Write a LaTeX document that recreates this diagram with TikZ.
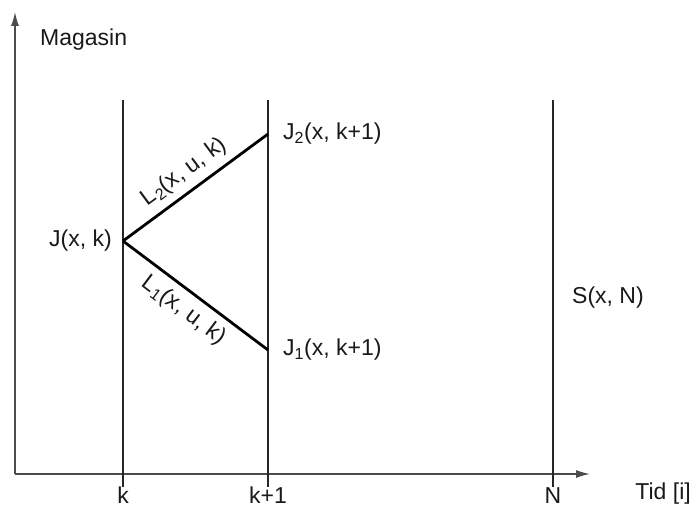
\documentclass[tikz,border=0pt]{standalone}
\usepackage{fontspec}
\setmainfont{Liberation Sans}
\usetikzlibrary{arrows.meta}
\begin{document}
\begin{tikzpicture}[x=1pt,y=-1pt,
  axis/.style={draw=black!70,line width=1.4pt,-{Latex[length=14pt,width=8pt]}},
  vline/.style={draw=black!85,line width=1.2pt},
  thick line/.style={draw=black,line width=2.8pt},
  lbl/.style={font=\fontsize{23}{26}\selectfont,inner sep=0pt,text=black!90}]
\useasboundingbox (0,0) rectangle (694,508);
\coordinate (O) at (15,474);
\coordinate (Ytop) at (15,12);
\coordinate (Xend) at (590,474);
\draw[axis] (O) -- (Ytop);
\draw[axis] (O) -- (Xend);
% vertical lines
\coordinate (kT) at (123,100); \coordinate (kB) at (123,487);
\coordinate (k1T) at (268,100); \coordinate (k1B) at (268,487);
\coordinate (NT) at (553,100); \coordinate (NB) at (553,487);
\draw[vline] (kT) -- (kB);
\draw[vline] (k1T) -- (k1B);
\draw[vline] (NT) -- (NB);
% points
\coordinate (J) at (123,241);
\coordinate (J2) at (268,134);
\coordinate (J1) at (268,350);
\draw[thick line] (J) -- node[lbl,midway,sloped,above=7pt] {L\textsubscript{2}(x, u, k)} (J2);
\draw[thick line] (J) -- node[lbl,midway,sloped,below=7pt] {L\textsubscript{1}(x, u, k)} (J1);
% labels
\node[lbl,anchor=west] (mag) at (40,40) {Magasin};
\node[lbl,anchor=east] (jl) at (112,241) {J(x, k)};
\node[lbl,anchor=west] (j2l) at (283,134) {J\textsubscript{2}(x, k+1)};
\node[lbl,anchor=west] (j1l) at (283,350) {J\textsubscript{1}(x, k+1)};
\node[lbl,anchor=west] (sl) at (572,298) {S(x, N)};
\node[lbl,anchor=base] (kl) at (123,503) {k};
\node[lbl,anchor=base] (k1l) at (268,503) {k+1};
\node[lbl,anchor=base] (Nl) at (553,503) {N};
\node[lbl,anchor=base east] (tid) at (691,499) {Tid [i]};
\end{tikzpicture}
\end{document}
